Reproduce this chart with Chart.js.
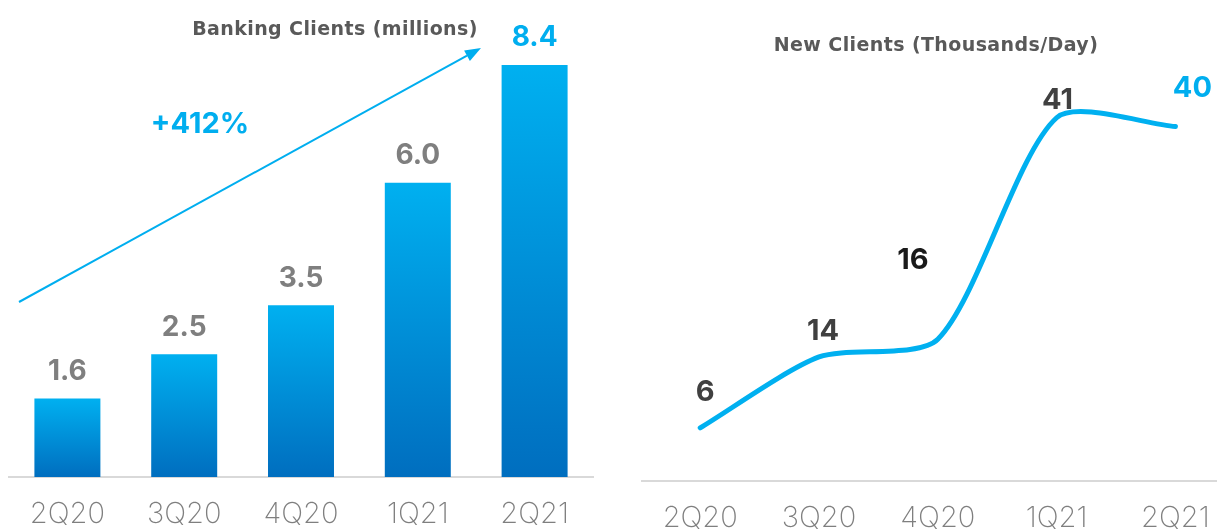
<!DOCTYPE html>
<html>
<head>
<meta charset="utf-8">
<script src="https://cdn.jsdelivr.net/npm/chart.js@4.4.1/dist/chart.umd.min.js"></script>
<style>
  html, body { margin: 0; padding: 0; background: #fff; }
  body { width: 1217px; height: 531px; overflow: hidden; position: relative; font-family: "Inter", "Open Sans", sans-serif; }
  .panel { position: absolute; top: 0; height: 560px; }
  #leftPanel { left: 0; width: 600px; }
  #rightPanel { left: 620px; width: 597px; }
  .txt { position: absolute; transform: translate(-50%, -50%); white-space: nowrap; }
  .title { font-family: "DejaVu Sans", sans-serif; font-weight: 700; font-size: 19px; letter-spacing: 0.4px; color: #595959; }
  #growth { font-weight: 700; font-size: 29px; color: #00AEEF; }
  svg { position: absolute; left: 0; top: 0; }
</style>
</head>
<body>
<div class="panel" id="leftPanel"><canvas id="clientsChart"></canvas></div>
<div class="panel" id="rightPanel"><canvas id="newClientsChart"></canvas></div>

<svg width="1217" height="531">
  <line x1="19" y1="302" x2="467" y2="55.7" stroke="#00AEEF" stroke-width="2"/>
  <polygon points="481,48 464.1,50.4 469.9,61" fill="#00AEEF"/>
</svg>
<div class="txt title" style="left:335px; top:28px;">Banking Clients (millions)</div>
<div class="txt title" style="left:936px; top:44px;">New Clients (Thousands/Day)</div>
<div class="txt" id="growth" style="left:200px; top:122px;">+412%</div>

<script>
// Quarters shown on both charts
const quarters = ['2Q20', '3Q20', '4Q20', '1Q21', '2Q21'];
// Banking clients, millions
const bankingClients = [1.6, 2.5, 3.5, 6.0, 8.4];
// New clients, thousands per day
const newClientsPerDay = [6, 14, 16, 41, 40];

const FONT = '"Inter", "Open Sans", sans-serif';
const BLUE = '#00AEEF';

Chart.defaults.font.family = FONT;

// Vertical gradient spanning each bar from its top to the baseline
function barGradient(ctx) {
  const chart = ctx.chart;
  if (!chart.chartArea || ctx.type !== 'data') return BLUE;
  const y = chart.scales.y;
  const top = y.getPixelForValue(ctx.raw);
  const bottom = y.getPixelForValue(0);
  const g = chart.ctx.createLinearGradient(0, top, 0, bottom);
  g.addColorStop(0, '#00B0F0');
  g.addColorStop(1, '#006EBF');
  return g;
}

// Value labels above each bar
const barValueLabels = {
  id: 'barValueLabels',
  afterDatasetsDraw(chart) {
    const ctx = chart.ctx;
    const meta = chart.getDatasetMeta(0);
    ctx.save();
    ctx.font = '700 28px ' + FONT;
    ctx.textAlign = 'center';
    ctx.textBaseline = 'middle';
    meta.data.forEach((bar, i) => {
      const last = i === bankingClients.length - 1;
      ctx.fillStyle = last ? BLUE : '#7F7F7F';
      ctx.fillText(bankingClients[i].toFixed(1), bar.x, bar.y - 27);
    });
    ctx.restore();
  }
};

const axisTickFont = { size: 29, weight: 200, lineHeight: 1 };

new Chart(document.getElementById('clientsChart'), {
  type: 'bar',
  data: {
    labels: quarters,
    datasets: [{
      data: bankingClients,
      backgroundColor: barGradient,
      categoryPercentage: 1,
      barPercentage: 0.565
    }]
  },
  options: {
    responsive: true,
    maintainAspectRatio: false,
    animation: false,
    layout: { autoPadding: false, padding: { left: 9, right: 7, top: 11, bottom: 8 } },
    plugins: { legend: { display: false }, tooltip: { enabled: false } },
    scales: {
      x: {
        grid: { display: false, drawTicks: false },
        border: { display: true, color: '#D9D9D9', width: 2 },
        ticks: { color: '#7F7F7F', padding: 23, font: axisTickFont }
      },
      y: { display: false, min: 0, max: 9.5 }
    }
  },
  plugins: [barValueLabels]
});

// Value labels near each point of the line, nudged off the curve
const pointLabelOffsets = [[5, -36], [4, -26], [-25, -79], [1, -17], [17, -38]];
const pointLabelColors = ['#404040', '#404040', '#1A1A1A', '#404040', BLUE];
const pointValueLabels = {
  id: 'pointValueLabels',
  afterDatasetsDraw(chart) {
    const ctx = chart.ctx;
    const meta = chart.getDatasetMeta(0);
    ctx.save();
    ctx.font = '700 29px ' + FONT;
    ctx.textAlign = 'center';
    ctx.textBaseline = 'middle';
    meta.data.forEach((pt, i) => {
      ctx.fillStyle = pointLabelColors[i];
      ctx.fillText(String(newClientsPerDay[i]), pt.x + pointLabelOffsets[i][0], pt.y + pointLabelOffsets[i][1]);
    });
    ctx.restore();
  }
};

// Horizontal extent of the line chart, in quarter units (half a slot of margin each side)
const X_MIN = -0.49;
const X_MAX = 4.35;

new Chart(document.getElementById('newClientsChart'), {
  type: 'line',
  data: {
    datasets: [{
      data: newClientsPerDay.map((v, i) => ({ x: i, y: v })),
      borderColor: '#00B0F0',
      borderWidth: 5,
      borderCapStyle: 'round',
      borderJoinStyle: 'round',
      tension: 0.25,
      pointRadius: 0,
      fill: false,
      clip: false
    }]
  },
  options: {
    responsive: true,
    maintainAspectRatio: false,
    animation: false,
    layout: { autoPadding: false, padding: { left: 22, right: 0, top: 38, bottom: 4 } },
    plugins: { legend: { display: false }, tooltip: { enabled: false } },
    scales: {
      x: {
        type: 'linear',
        bounds: 'data',
        min: X_MIN,
        max: X_MAX,
        afterBuildTicks(scale) {
          scale.ticks = quarters.map((_, i) => ({ value: i }));
          scale.min = X_MIN;
          scale.max = X_MAX;
        },
        // the edge labels already sit inside the plot, so no extra side padding
        afterFit(scale) {
          scale.paddingLeft = 0;
          scale.paddingRight = 0;
        },
        grid: { display: false, drawTicks: false },
        border: { display: true, color: '#D9D9D9', width: 2 },
        ticks: {
          color: '#7F7F7F', padding: 23, maxRotation: 0, autoSkip: false,
          font: axisTickFont,
          callback: (v) => quarters[v]
        }
      },
      y: { display: false, min: 0, max: 50 }
    }
  },
  plugins: [pointValueLabels]
});
</script>
</body>
</html>
